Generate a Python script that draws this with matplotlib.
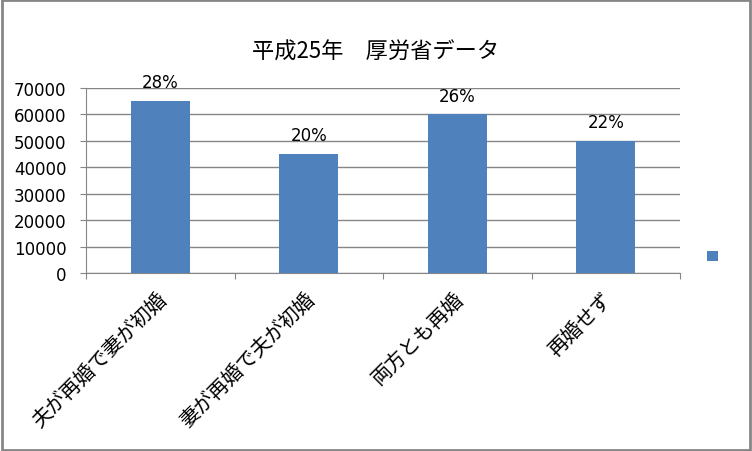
import matplotlib.pyplot as plt
from matplotlib.patches import Patch

plt.rcParams['font.family'] = ['Noto Sans CJK JP', 'DejaVu Sans']

# Data
categories = ["夫が再婚で妻が初婚", "妻が再婚で夫が初婚", "両方とも再婚", "再婚せず"]
values = [65000, 45000, 60000, 50000]
pct_labels = ["28%", "20%", "26%", "22%"]
yticks = [0, 10000, 20000, 30000, 40000, 50000, 60000, 70000]
title = "平成25年　厚労省データ"

bar_color = "#4F81BD"
grid_color = "#868686"

fig = plt.figure(figsize=(7.52, 4.52), dpi=100)
ax = fig.add_axes([86 / 752, 1 - 274 / 452, 594 / 752, 185 / 452])

x = range(len(categories))
bars = ax.bar(x, values, width=0.4, color=bar_color, zorder=3)

# Percentage labels above bars
for b, lab in zip(bars, pct_labels):
    ax.annotate(lab, (b.get_x() + b.get_width() / 2, b.get_height()),
                xytext=(0, 7), textcoords="offset points",
                ha="center", va="bottom", fontsize=12, family="DejaVu Sans")

ax.set_xlim(-0.5, len(categories) - 0.5)
ax.set_ylim(0, 70000)
ax.set_yticks(yticks)
ax.set_yticklabels([str(v) for v in yticks], fontsize=12, family="DejaVu Sans")
ax.yaxis.grid(True, color=grid_color, linewidth=1, zorder=0)

# Category labels rotated, ticks at category boundaries
ax.set_xticks([i - 0.5 for i in range(len(categories) + 1)])
ax.set_xticklabels([])
for i, cat in enumerate(categories):
    ax.annotate(cat, (i, 0), xytext=(-3, -11), textcoords="offset points",
                rotation=45, ha="right", va="top", rotation_mode="anchor",
                fontsize=14.5, annotation_clip=False)

for s in ["top", "right"]:
    ax.spines[s].set_visible(False)
for s in ["left", "bottom"]:
    ax.spines[s].set_color(grid_color)
ax.tick_params(axis="both", color=grid_color, length=4, direction="out")
ax.tick_params(axis="y", pad=10)

fig.suptitle(title, x=0.5, y=1 - 52 / 452, va="center", fontsize=16)

# Legend (marker only)
fig.legend(handles=[Patch(facecolor=bar_color)], labels=[""],
           loc="center", bbox_to_anchor=(718 / 752, 1 - 258 / 452),
           frameon=False, handlelength=0.8, handleheight=0.8)

# Figure border
fig.patches.append(plt.Rectangle((0.002, 0.003), 0.996, 0.994, transform=fig.transFigure,
                                 fill=False, edgecolor="#868686", linewidth=2))

fig.savefig("out.png", dpi=100)
